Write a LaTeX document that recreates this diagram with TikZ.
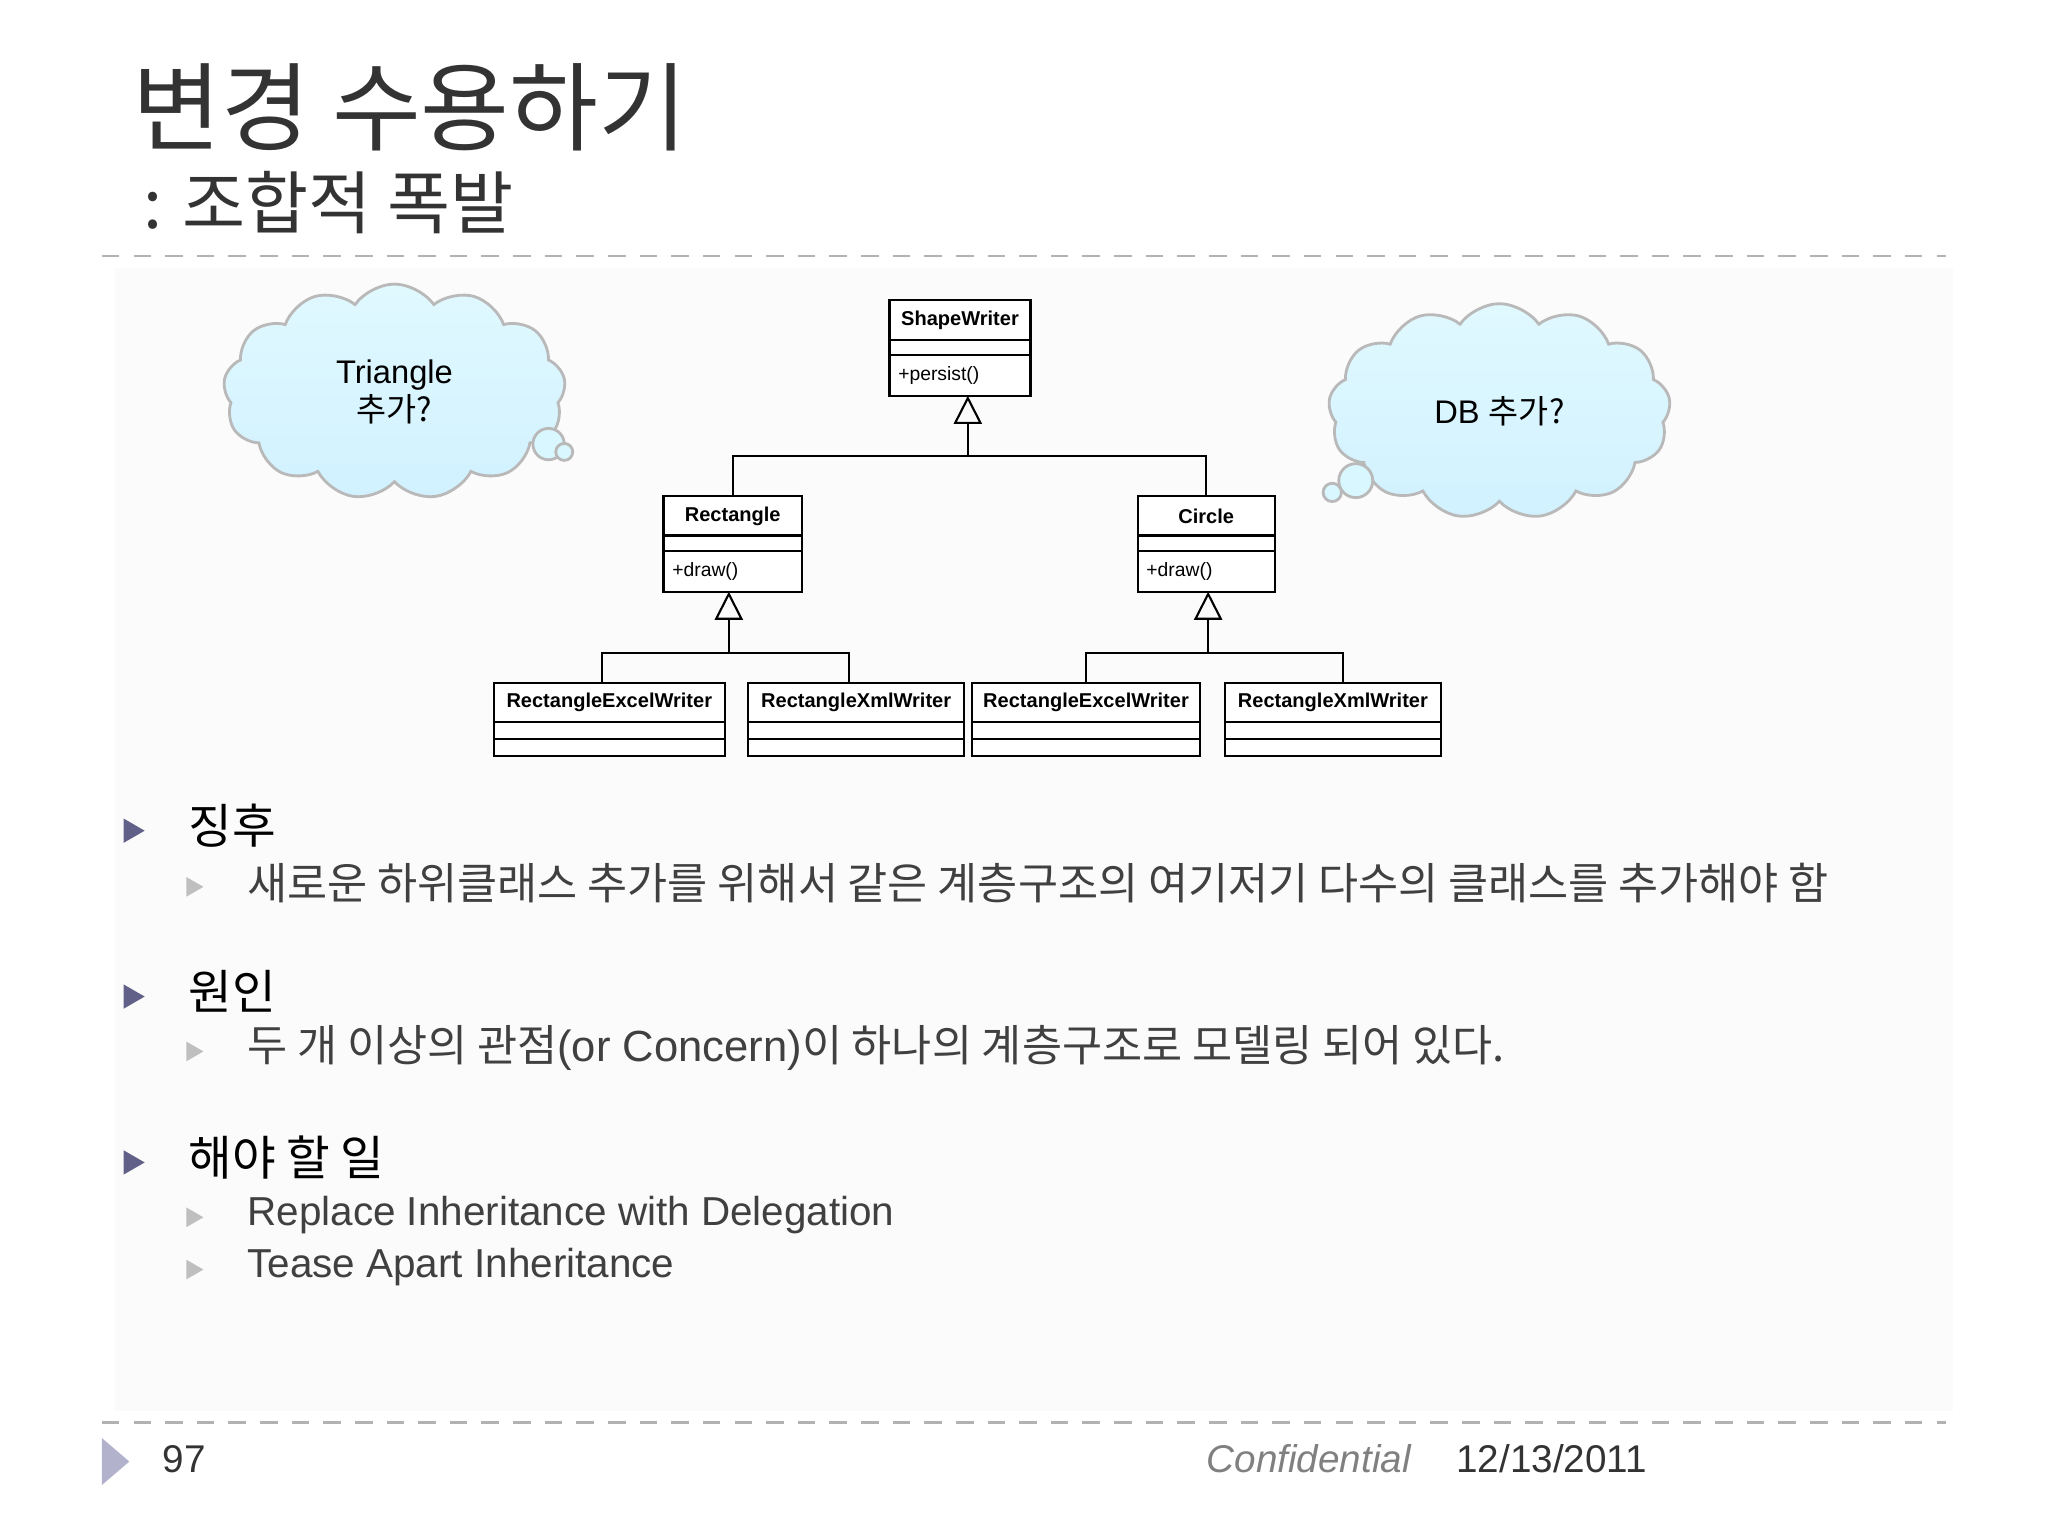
\documentclass[tikz,border=0pt]{standalone}
\usepackage{fontspec}
\setmainfont{Liberation Sans}
\newfontfamily\kr{Noto Sans CJK KR}
\usetikzlibrary{shapes.symbols,shapes.geometric,arrows.meta}
\begin{document}
\begin{tikzpicture}[x=0.01306cm,y=-0.01306cm,
  cls/.style={draw,semithick,fill=white,outer sep=0,minimum width=#1*0.3716pt,minimum height=30*0.3716pt,inner sep=0,font=\fontsize{5.7}{6}\selectfont\bfseries},
  comp/.style={draw,semithick,fill=white,outer sep=0,minimum width=#1*0.3716pt,minimum height=13*0.3716pt,inner sep=0},
  meth/.style={draw,semithick,fill=white,outer sep=0,minimum width=#1*0.3716pt,minimum height=31*0.3716pt,inner sep=2.5pt,anchor=north,font=\fontsize{5.5}{6}\selectfont,text width=#1*0.3716pt-5pt,align=left},
  inh/.style={-{Triangle[open,length=8pt,width=8pt]},semithick},
  ln/.style={semithick},
  bub/.style={cloud,cloud puffs=13,cloud puff arc=110,draw=gray!55,thick,top color=blue!20!cyan!12,bottom color=blue!30!cyan!18,aspect=1.6},
  ball/.style={circle,draw=gray!55,thick,fill=blue!20!cyan!15},
  dl/.style={gray!60,dashed,thick,dash pattern=on 5pt off 4pt},
  head/.style={font=\kr\fontsize{13.5}{15}\selectfont,anchor=west},
  body/.style={font=\kr\fontsize{12.4}{14}\selectfont,text=black!75,anchor=west},
  mk/.style={fill=#1,draw=none,regular polygon,regular polygon sides=3,shape border rotate=-90}]
\useasboundingbox (0,0) rectangle (1568,1176);
\fill[gray!3] (88,205) rectangle (1495,1080);
% title
\node[anchor=west,font=\kr\fontsize{27.5}{30}\selectfont,text=black!80] (title) at (92,82) {변경 수용하기};
\node[anchor=west,font=\kr\fontsize{19.5}{22}\selectfont,text=black!80] (sub) at (100,155) {: 조합적 폭발};
\draw[dl] (78,196) -- (1490,196);
\draw[dl] (78,1089) -- (1490,1089);
% clouds
\node[bub,minimum width=262*0.3716pt,minimum height=165*0.3716pt,align=center,font=\fontsize{9.3}{11}\selectfont] (c1) at (302,300) {Triangle\\{\kr 추가?}};
\node[ball,minimum size=24*0.3716pt,inner sep=0] (c1a) at (420,340) {};
\node[ball,minimum size=13*0.3716pt,inner sep=0] (c1b) at (432,346) {};
\node[bub,minimum width=262*0.3716pt,minimum height=165*0.3716pt,font=\fontsize{9.3}{11}\selectfont] (c2) at (1148,315) {DB {\kr 추가?}};
\node[ball,minimum size=26*0.3716pt,inner sep=0] (c2a) at (1038,368) {};
\node[ball,minimum size=14*0.3716pt,inner sep=0] (c2b) at (1020,377) {};
% classes
\newcommand{\umlclass}[6]{%
 \node[cls=#4,anchor=north] (#1) at (#2,#3) {#5};
 \node[comp=#4,anchor=north,minimum height=12*0.3716pt] (#1e) at (#1.south) {};
 \node[meth=#4] (#1m) at (#1e.south) {#6};}
\newcommand{\umlsmall}[5]{%
 \node[cls=#4,anchor=north] (#1) at (#2,#3) {#5};
 \node[comp=#4,anchor=north] (#1a) at (#1.south) {};
 \node[comp=#4,anchor=north] (#1b) at (#1a.south) {};}
\umlclass{sw}{735}{230}{108}{ShapeWriter}{+persist()}
\umlclass{rc}{561}{380}{106}{Rectangle}{+draw()}
\umlclass{ci}{923.5}{380}{105}{Circle}{+draw()}
\umlsmall{r1}{466.5}{523}{177}{RectangleExcelWriter}
\umlsmall{r2}{655.5}{523}{165}{RectangleXmlWriter}
\umlsmall{r3}{831.5}{523}{175}{RectangleExcelWriter}
\umlsmall{r4}{1020.5}{523}{165}{RectangleXmlWriter}
% inheritance
\coordinate (j1) at (741,349);
\draw[ln] (rc.north) |- (j1) -| (ci.north);
\draw[inh] (j1) -- (swm.south-|741,0);
\coordinate (j2) at (558,500);
\draw[ln] (r1.north-|461,0) |- (j2) -| (r2.north-|650,0);
\draw[inh] (j2) -- (rcm.south-|558,0);
\coordinate (j3) at (925,500);
\draw[ln] (r3.north) |- (j3) -| (r4.north-|1028,0);
\draw[inh] (j3) -- (cim.south-|925,0);
% bullets
\colorlet{bul}{black!35!blue!25!gray}
\node[mk=bul,minimum size=8,inner sep=0] (b1) at (100,636) {};
\node[head] (h1) at (135,632) {징후};
\node[mk=gray!50,minimum size=6.5,inner sep=0] (s1) at (147,679) {};
\node[body] (t1) at (180,676) {새로운 하위클래스 추가를 위해서 같은 계층구조의 여기저기 다수의 클래스를 추가해야 함};
\node[mk=bul,minimum size=8,inner sep=0] (b2) at (100,763) {};
\node[head] (h2) at (135,759) {원인};
\node[mk=gray!50,minimum size=6.5,inner sep=0] (s2) at (147,805) {};
\node[body] (t2) at (180,802) {두 개 이상의 관점{\rmfamily(or Concern)}이 하나의 계층구조로 모델링 되어 있다.};
\node[mk=bul,minimum size=8,inner sep=0] (b3) at (100,890) {};
\node[head] (h3) at (135,886) {해야 할 일};
\node[mk=gray!50,minimum size=6.5,inner sep=0] (s3) at (147,932) {};
\node[anchor=west,font=\fontsize{11.5}{13}\selectfont,text=black!75] (t3) at (180,930) {Replace Inheritance with Delegation};
\node[mk=gray!50,minimum size=6.5,inner sep=0] (s4) at (147,972) {};
\node[anchor=west,font=\fontsize{11.5}{13}\selectfont,text=black!75] (t4) at (180,970) {Tease Apart Inheritance};
% footer
\fill[blue!20!gray!50] (78,1101) -- (99,1119) -- (78,1137) -- cycle;
\node[anchor=west,font=\fontsize{11}{13}\selectfont,text=black!80] (pg) at (115,1117) {97};
\node[font=\fontsize{11}{13}\selectfont\itshape,text=gray] (conf) at (1002,1117) {Confidential};
\node[font=\fontsize{11}{13}\selectfont,text=black!80] (date) at (1188,1117) {12/13/2011};
\end{tikzpicture}
\end{document}
